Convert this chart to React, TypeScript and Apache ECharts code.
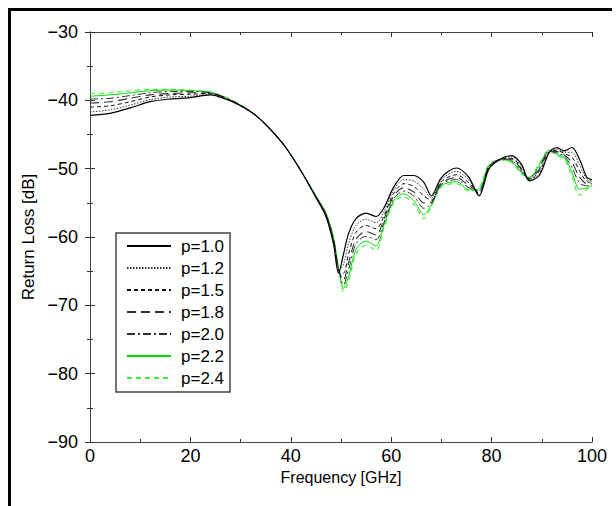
import React, { useEffect, useRef } from "react";
import * as echarts from "echarts";

const freq = [0, 4, 8, 12, 16, 20, 24, 27, 30, 33, 36, 39, 42, 45, 47, 48.5, 49.5, 50.5, 51.5, 53, 55, 57, 58.5, 60.5, 62.5, 64.5, 66.5, 68, 70, 73, 75.5, 77.5, 79.5, 82, 84, 86, 87.5, 89.5, 91.5, 93, 94.5, 96, 97.5, 99, 100];

const p10 = [-42.2, -41.9, -41.1, -40.2, -39.8, -39.6, -39.2, -39.8, -40.8, -42.2, -44.3, -46.9, -50.3, -54.2, -57.0, -61.0, -65.3, -62.5, -59.5, -57.3, -56.5, -57.0, -55.8, -52.7, -51.0, -51.0, -52.0, -54.0, -51.3, -49.9, -51.3, -54.0, -50.0, -48.5, -48.1, -49.4, -51.8, -51.0, -47.6, -46.9, -47.4, -46.9, -48.6, -51.3, -51.6];
const p12 = [-41.7, -41.4, -40.7, -39.9, -39.5, -39.4, -39.1, -39.8, -40.8, -42.2, -44.3, -46.9, -50.3, -54.2, -56.9, -60.8, -65.0, -64.0, -61.0, -58.3, -57.4, -57.9, -56.4, -53.1, -51.6, -51.8, -53.0, -54.3, -51.6, -50.4, -51.7, -53.8, -49.9, -48.5, -48.3, -49.7, -51.7, -50.7, -47.6, -47.1, -47.6, -47.6, -49.4, -51.6, -51.8];
const p15 = [-41.0, -40.8, -40.2, -39.5, -39.2, -39.1, -39.0, -39.7, -40.8, -42.2, -44.3, -46.9, -50.3, -54.1, -56.8, -60.6, -64.8, -65.3, -62.5, -59.3, -58.3, -58.8, -57.0, -53.6, -52.2, -52.6, -54.0, -54.6, -51.9, -50.9, -52.1, -53.6, -49.8, -48.6, -48.5, -50.0, -51.6, -50.4, -47.5, -47.3, -47.8, -48.3, -50.3, -51.9, -52.0];
const p18 = [-40.4, -40.2, -39.7, -39.2, -39.0, -38.9, -38.9, -39.7, -40.7, -42.2, -44.3, -46.9, -50.3, -54.1, -56.7, -60.4, -64.7, -66.3, -63.8, -60.3, -59.2, -59.7, -57.5, -54.0, -52.8, -53.4, -55.0, -54.9, -52.1, -51.3, -52.5, -53.4, -49.7, -48.6, -48.6, -50.2, -51.5, -50.1, -47.5, -47.5, -48.0, -49.1, -51.2, -52.2, -52.2];
const p20 = [-39.8, -39.7, -39.3, -38.9, -38.7, -38.7, -38.9, -39.6, -40.7, -42.2, -44.3, -46.9, -50.3, -54.0, -56.6, -60.3, -64.6, -67.0, -64.8, -61.0, -59.9, -60.4, -58.0, -54.4, -53.3, -54.0, -55.8, -55.1, -52.3, -51.6, -52.8, -53.2, -49.6, -48.6, -48.8, -50.4, -51.4, -49.8, -47.4, -47.7, -48.2, -49.8, -52.1, -52.5, -52.4];
const p22 = [-39.4, -39.2, -38.9, -38.6, -38.5, -38.6, -38.8, -39.6, -40.7, -42.2, -44.3, -46.9, -50.3, -54.0, -56.5, -60.1, -64.5, -67.5, -65.8, -61.8, -60.6, -61.3, -58.4, -54.7, -53.7, -54.7, -56.7, -55.3, -52.5, -51.9, -53.1, -53.0, -49.5, -48.7, -49.0, -50.6, -51.3, -49.5, -47.3, -47.9, -48.4, -50.5, -53.0, -52.8, -52.5];
const p24 = [-39.0, -38.9, -38.6, -38.4, -38.4, -38.5, -38.8, -39.6, -40.7, -42.2, -44.3, -46.9, -50.3, -54.0, -56.5, -60.0, -64.5, -68.0, -66.5, -62.5, -61.2, -62.0, -58.8, -55.0, -54.1, -55.2, -57.3, -55.5, -52.7, -52.2, -53.3, -52.8, -49.4, -48.7, -49.1, -50.8, -51.3, -49.2, -47.3, -48.1, -48.6, -51.2, -53.9, -53.0, -52.6];

const seriesNames = ["p=1.0", "p=1.2", "p=1.5", "p=1.8", "p=2.0", "p=2.2", "p=2.4"];
const seriesValues = [p10, p12, p15, p18, p20, p22, p24];
const xTicks = [0, 20, 40, 60, 80, 100];
const yTicks = [-90, -80, -70, -60, -50, -40, -30];

const lineStyles: any[] = [
  { color: "#000000", width: 1.2, type: "solid" },
  { color: "#333333", width: 1, type: [1.5, 1.5] },
  { color: "#111111", width: 1, type: [4, 3] },
  { color: "#333333", width: 1.1, type: [9, 5] },
  { color: "#333333", width: 1, type: [8, 3, 2, 3] },
  { color: "#00dd00", width: 1, type: "solid" },
  { color: "#44ee44", width: 1.1, type: [5, 4] },
];

const FONT = "'Liberation Sans', Arial, Helvetica, sans-serif";

export default function App() {
  const ref = useRef<HTMLDivElement>(null);
  useEffect(() => {
    if (!ref.current) return;
    const chart = echarts.init(ref.current, null, { renderer: "svg" });
    const axisLine = { show: true, lineStyle: { color: "#444", width: 1 } };
    const axisTick = { show: true, inside: true, length: 5, lineStyle: { color: "#333" } };
    const minorTick = { show: true, splitNumber: 2, length: 3, lineStyle: { color: "#333" } };
    const option: any = {
      animation: false,
      backgroundColor: "#ffffff",
      textStyle: { fontFamily: FONT },
      grid: { left: 90, top: 32, right: 24, bottom: 64 },
      xAxis: [
        {
          type: "value",
          position: "bottom",
          min: xTicks[0],
          max: xTicks[xTicks.length - 1],
          interval: 20,
          axisLine,
          axisTick,
          minorTick,
          splitLine: { show: false },
          axisLabel: { fontSize: 18, color: "#000", margin: 5, fontFamily: FONT },
          name: "Frequency [GHz]",
          nameLocation: "middle",
          nameGap: 21,
          nameTextStyle: { fontSize: 16, color: "#000", fontFamily: FONT, verticalAlign: "top" },
        },
        {
          type: "value",
          position: "top",
          min: 0,
          max: 100,
          interval: 20,
          axisLine,
          axisTick,
          minorTick,
          splitLine: { show: false },
          axisLabel: { show: false },
        },
      ],
      yAxis: [
        {
          type: "value",
          position: "left",
          min: yTicks[0],
          max: yTicks[yTicks.length - 1],
          interval: 10,
          axisLine,
          axisTick,
          minorTick,
          splitLine: { show: false },
          axisLabel: {
            fontSize: 18,
            color: "#000",
            margin: 12,
            fontFamily: FONT,
            formatter: (v: number) => (v < 0 ? "\u2212" + Math.abs(v) : String(v)),
          },
          name: "Return Loss [dB]",
          nameLocation: "middle",
          nameGap: 50,
          nameTextStyle: { fontSize: 17, color: "#000", fontFamily: FONT },
        },
        {
          type: "value",
          position: "right",
          min: -90,
          max: -30,
          interval: 10,
          axisLine,
          axisTick,
          minorTick,
          splitLine: { show: false },
          axisLabel: { show: false },
        },
      ],
      legend: {
        show: true,
        orient: "vertical",
        left: 116,
        top: 233,
        itemWidth: 44,
        itemHeight: 12,
        itemGap: 4,
        padding: [4, 6, 5, 10],
        borderColor: "#444",
        borderWidth: 1.5,
        backgroundColor: "#fff",
        itemStyle: { opacity: 0 },
        textStyle: { fontSize: 17, lineHeight: 18, color: "#000", fontFamily: FONT, padding: [0, 0, 0, 5] },
        data: seriesNames,
      },
      graphic: [
        { type: "rect", shape: { x: 8, y: 8, width: 604, height: 3 }, style: { fill: "#000" }, silent: true },
        { type: "rect", shape: { x: 8, y: 8, width: 3, height: 498 }, style: { fill: "#000" }, silent: true },
      ],
      series: seriesNames.map((name, k) => ({
        name,
        type: "line",
        xAxisIndex: 0,
        yAxisIndex: 0,
        data: freq.map((f, i) => [f, seriesValues[k][i]]),
        smooth: 0.3,
        symbol: "none",
        showSymbol: false,
        lineStyle: lineStyles[k],
        itemStyle: { color: lineStyles[k].color },
        z: 10 - k,
      })),
    };
    chart.setOption(option);
    return () => chart.dispose();
  }, []);
  return (
    <div
      ref={ref}
      style={{ position: "fixed", left: 0, top: 0, width: 616, height: 506, background: "#fff" }}
    />
  );
}
